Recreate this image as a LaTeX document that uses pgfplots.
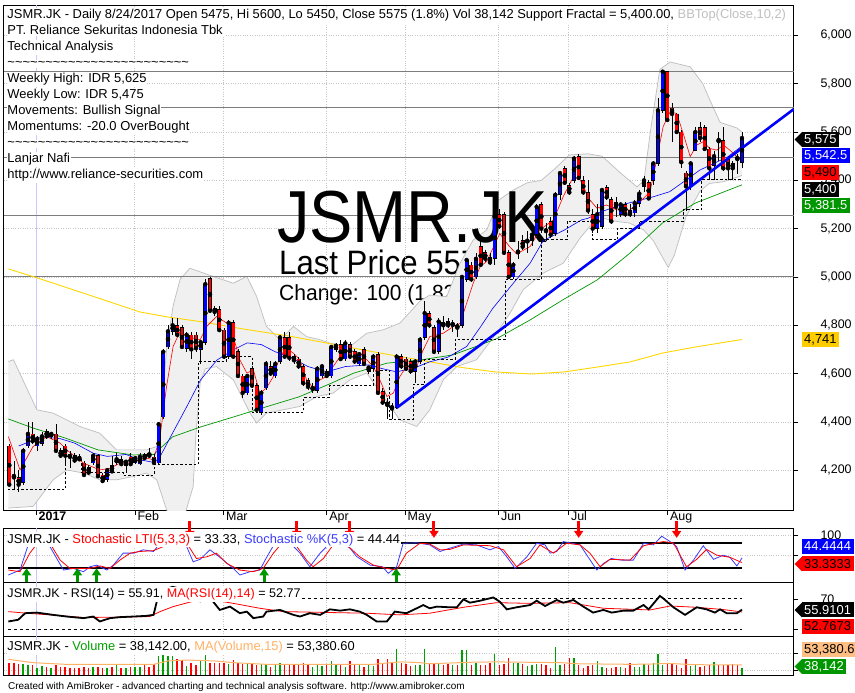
\documentclass[border=0pt]{standalone}
\usepackage{fontspec}
\setmainfont{Liberation Sans}
\usepackage{pgfplots}
\pgfplotsset{compat=1.18}
\usepackage{pgfplotstable}
\usetikzlibrary{arrows.meta}

\definecolor{cblue}{RGB}{0,0,255}
\definecolor{cred}{RGB}{255,0,0}
\definecolor{mgreen}{RGB}{0,150,0}
\definecolor{myellow}{RGB}{255,215,0}
\definecolor{bbfill}{RGB}{240,240,240}
\definecolor{bbedge}{RGB}{190,190,190}
\definecolor{hline}{RGB}{125,125,125}
\definecolor{vgreen}{RGB}{0,160,0}
\definecolor{vorange}{RGB}{255,178,102}
\definecolor{stblue}{RGB}{60,60,255}
\definecolor{gold}{RGB}{255,204,0}
\definecolor{boxgreen}{RGB}{0,150,0}
\definecolor{yearline}{RGB}{200,200,255}
\definecolor{ttgray}{RGB}{192,192,192}
\definecolor{boxorange}{RGB}{255,190,130}

\newcommand\fs[1]{\fontsize{#1}{#1}\selectfont}
\newcommand\tl{\textasciitilde}
\newcommand\tildes{\tl\tl\tl\tl\tl\tl\tl\tl\tl\tl\tl\tl\tl\tl\tl\tl\tl\tl\tl\tl\tl\tl\tl\tl}
\newcommand\hdrs[3]{\node[anchor=base west, fill=white, inner xsep=0.8bp, inner ysep=1.6bp, font=\fs{#1}] at (6.5bp,{(693-#2)*1bp}) {#3};}
\newcommand\hdr[2]{\hdrs{13}{#1}{#2}}
\newcommand\valbox[4]{\node[anchor=west, fill=#2, text=#3, inner xsep=2.5bp, inner ysep=0bp, minimum height=15bp, font=\fs{13}] at (801.5bp,{(693-#1)*1bp}) {#4};}
\newcommand\valarrow[2]{\fill[#2] (794.5bp,{(693-#1)*1bp}) -- (802bp,{(693-#1+7.5)*1bp}) -- (802bp,{(693-#1-7.5)*1bp}) -- cycle;}

\pgfplotstableread{
i o h l c v
0 4300 4310 4130 4140 66
1 4180 4240 4120 4170 66
2 4170 4200 4110 4140 57
3 4150 4290 4140 4280 57
4 4300 4400 4290 4350 53
5 4350 4400 4310 4320 53
6 4300 4340 4280 4330 39
7 4310 4360 4300 4340 48
8 4360 4370 4330 4340 44
9 4340 4360 4330 4350 39
10 4350 4390 4270 4280 53
11 4280 4290 4250 4260 44
12 4300 4310 4220 4260 44
13 4262 4280 4210 4255 39
14 4260 4270 4230 4240 39
15 4255 4265 4240 4245 39
16 4230 4240 4170 4180 44
17 4210 4220 4180 4190 39
18 4230 4270 4220 4260 44
19 4260 4265 4170 4175 44
20 4180 4190 4150 4155 39
21 4160 4210 4150 4200 39
22 4220 4260 4190 4195 44
23 4230 4270 4220 4245 53
24 4245 4260 4220 4225 39
25 4220 4240 4190 4235 39
26 4255 4270 4220 4225 44
27 4230 4260 4225 4250 44
28 4225 4270 4220 4255 44
29 4265 4270 4245 4250 57
30 4270 4290 4250 4260 44
31 4255 4265 4225 4230 57
32 4230 4400 4225 4390 101
33 4420 4700 4410 4690 110
34 4710 4800 4700 4775 101
35 4775 4830 4760 4800 101
36 4800 4830 4750 4760 84
37 4790 4800 4700 4710 78
38 4705 4770 4690 4760 48
39 4760 4770 4660 4700 66
40 4760 4770 4690 4705 52
41 4700 4740 4640 4730 78
42 4730 4990 4720 4970 105
43 4995 5000 4850 4860 66
44 4870 4880 4840 4855 66
45 4865 4880 4770 4780 66
46 4780 4790 4660 4670 66
47 4670 4820 4660 4810 57
48 4810 4820 4660 4670 78
49 4690 4700 4580 4590 66
50 4590 4600 4500 4520 60
51 4520 4600 4510 4590 66
52 4620 4630 4540 4550 57
53 4550 4560 4440 4450 53
54 4440 4530 4430 4520 57
55 4540 4650 4530 4640 53
56 4630 4650 4590 4600 44
57 4590 4650 4580 4640 57
58 4650 4760 4640 4750 66
59 4750 4770 4660 4670 57
60 4750 4770 4650 4665 53
61 4670 4680 4640 4655 57
62 4660 4670 4620 4630 53
63 4630 4640 4550 4560 66
64 4570 4580 4530 4545 53
65 4535 4560 4520 4540 44
66 4530 4630 4520 4620 57
67 4590 4640 4580 4630 48
68 4610 4620 4580 4590 60
69 4590 4720 4580 4710 75
70 4700 4725 4690 4715 57
71 4720 4740 4650 4660 57
72 4660 4740 4650 4725 44
73 4720 4730 4660 4670 75
74 4690 4700 4640 4650 57
75 4640 4690 4630 4680 53
76 4700 4710 4630 4640 44
77 4610 4630 4600 4625 53
78 4620 4680 4610 4670 48
79 4680 4690 4510 4520 84
80 4525 4540 4470 4480 66
81 4480 4500 4410 4470 87
82 4465 4480 4410 4455 66
83 4460 4680 4455 4670 137
84 4670 4680 4620 4630 66
85 4660 4670 4610 4620 57
86 4650 4660 4600 4610 48
87 4610 4660 4560 4650 53
88 4650 4750 4640 4740 53
89 4750 4900 4740 4850 137
90 4850 4860 4790 4800 57
91 4790 4800 4680 4690 57
92 4690 4830 4680 4815 66
93 4810 4840 4780 4800 53
94 4815 4830 4790 4800 57
95 4800 4820 4770 4805 53
96 4800 4810 4750 4790 53
97 4800 5010 4790 5000 132
98 4990 5080 4980 5070 132
99 5050 5060 4980 4990 53
100 5000 5100 4990 5075 66
101 5125 5150 5040 5050 53
102 5100 5110 5060 5075 53
103 5080 5100 5050 5060 66
104 5075 5275 5050 5250 110
105 5260 5280 5200 5210 53
106 5260 5270 5090 5100 57
107 5100 5110 4990 5000 89
108 5000 5060 4990 5050 66
109 5100 5150 5075 5105 66
110 5150 5175 5110 5125 57
111 5145 5190 5100 5150 48
112 5150 5200 5130 5175 53
113 5175 5300 5170 5290 57
114 5300 5310 5180 5200 60
115 5195 5225 5150 5190 53
116 5230 5250 5160 5175 39
117 5180 5350 5170 5340 149
118 5340 5440 5320 5430 53
119 5450 5460 5380 5390 60
120 5380 5390 5340 5350 89
121 5400 5500 5390 5490 89
122 5500 5510 5400 5410 53
123 5400 5420 5340 5350 39
124 5350 5400 5260 5275 48
125 5260 5280 5180 5200 53
126 5200 5300 5180 5260 75
127 5210 5370 5200 5360 44
128 5370 5380 5320 5330 39
129 5320 5330 5220 5230 39
130 5310 5330 5250 5290 44
131 5260 5310 5250 5300 44
132 5300 5310 5250 5260 39
133 5275 5300 5250 5260 66
134 5265 5320 5250 5305 44
135 5305 5360 5290 5345 44
136 5375 5420 5350 5400 57
137 5390 5400 5320 5325 53
138 5400 5480 5380 5470 62
139 5470 5740 5460 5690 110
140 5690 5850 5680 5850 53
141 5850 5850 5640 5650 57
142 5700 5720 5560 5675 57
143 5675 5680 5590 5600 52
144 5600 5610 5450 5475 39
145 5430 5440 5275 5375 84
146 5375 5480 5360 5470 48
147 5525 5620 5520 5600 57
148 5620 5640 5560 5575 44
149 5620 5630 5520 5530 48
150 5530 5540 5400 5450 52
151 5460 5520 5400 5500 69
152 5570 5600 5480 5562 53
153 5565 5620 5440 5450 52
154 5485 5500 5400 5450 53
155 5470 5480 5400 5450 57
156 5495 5510 5425 5488 53
157 5475 5600 5450 5575 38.142
}\candles

\pgfplotsset{
  panel/.style={scale only axis, width=790.3bp, xmin=-1.24, xmax=168.1, anchor=south west,
    axis line style={line width=0.8bp}, tick align=outside, major tick length=4.5bp,
    xtick={5.72,26.9,45.9,68,84.8,104.8,119.8,141},
    xmajorgrids, major grid style={gray!45, dotted, line width=0.7bp},
    ytick pos=right, yticklabel pos=right, xtick pos=left,
    tick style={black, line width=0.6bp},
    ticklabel style={font=\fs{12.5}},
    /pgf/number format/assume math mode=true,
    /pgf/number format/1000 sep={,},
    yticklabel style={anchor=west, inner sep=0pt, xshift=22bp},
  },
  lower/.style={panel, xticklabels={}, xtick style={draw=none}},
}

\begin{document}
\begin{tikzpicture}
\path[use as bounding box, fill=white] (0,0) rectangle (855bp,693bp);

% background texts (drawn under the band)
\node[anchor=base west, inner sep=0pt, font=\fs{34}, xscale=0.92] at (279bp,418.5bp) {Last Price 5575};
\node[anchor=base west, inner sep=0pt, font=\fs{22}, xscale=0.96] at (279bp,392bp) {Change: 100 (1,82\%)};

% ================= MAIN PRICE PANEL =================
\begin{axis}[panel, at={(3.5bp,182.5bp)}, height=505.5bp, ymin=4033, ymax=6126,
  ytick={4200,4400,...,6000}, ymajorgrids,
  xticklabels={\textbf{2017},Feb,Mar,Apr,May,Jun,Jul,Aug},
  xticklabel style={anchor=north west, inner sep=0pt, xshift=2.5bp, yshift=3.5bp}]

\addplot[yearline, line width=0.8bp] coordinates {(5.72,4033) (5.72,6126)};

% Bollinger band (10,2) fill
\addplot[fill=bbfill, draw=none] coordinates {
(-0.2,4650) (0.9,4657) (5.9,4450) (9.4,4436) (12.3,4408) (15.1,4381) (19.4,4353) (23,4284) (29.4,4284) (31.6,4298) (32.5,4420) (33.7,4700) (35.1,4880) (36.6,4990) (38.7,5036) (43.7,5002) (48,4974) (50.9,5002) (53,4919) (55.1,4795) (58,4740) (60.9,4795) (63.7,4753) (66.6,4740) (68.7,4726) (73,4712) (76.6,4767) (80.1,4781) (83.7,4809) (88,4900) (90.1,4925) (93.7,4918) (96.6,5057) (99.4,5153) (102.3,5195) (105,5320) (108,5360) (111,5390) (114,5400) (117,5450) (120,5505) (124,5510) (127,5500) (131,5430) (134.5,5373) (136,5400) (137.5,5620) (139.4,5860) (141.6,5890) (145.9,5870) (148.6,5800) (150.1,5733) (152.3,5640) (155.9,5617) (157,5600)
(157,5420) (153,5394) (150,5387) (148,5355) (145,5250) (142.5,5090) (141.2,5040) (140,5080) (138,5150) (135.9,5195) (132.9,5223) (130.1,5230) (127.3,5243) (124.4,5209) (122.3,5161) (118.7,5057) (114.4,5016) (110.1,4947) (107.3,4850) (104.4,4767) (100.1,4657) (95.9,4629) (93,4574) (90.1,4450) (87.3,4381) (83.7,4408) (80.1,4505) (76.6,4602) (73,4574) (69.4,4519) (65.9,4505) (62.3,4464) (58.7,4450) (55.1,4436) (53,4395) (51.6,4436) (48,4574) (44.4,4629) (42,4620) (40.9,4560) (40,4350) (39.4,4132) (36.6,3950) (33.7,4036) (31.6,4160) (29.4,4188) (26.6,4174) (23,4160) (19.4,4160) (15.9,4188) (12.3,4201) (9.4,4160) (5.1,4050) (-0.2,4043)
} -- cycle;
\addplot[bbedge, line width=0.7bp] coordinates {
(-0.2,4650) (0.9,4657) (5.9,4450) (9.4,4436) (12.3,4408) (15.1,4381) (19.4,4353) (23,4284) (29.4,4284) (31.6,4298) (32.5,4420) (33.7,4700) (35.1,4880) (36.6,4990) (38.7,5036) (43.7,5002) (48,4974) (50.9,5002) (53,4919) (55.1,4795) (58,4740) (60.9,4795) (63.7,4753) (66.6,4740) (68.7,4726) (73,4712) (76.6,4767) (80.1,4781) (83.7,4809) (88,4900) (90.1,4925) (93.7,4918) (96.6,5057) (99.4,5153) (102.3,5195) (105,5320) (108,5360) (111,5390) (114,5400) (117,5450) (120,5505) (124,5510) (127,5500) (131,5430) (134.5,5373) (136,5400) (137.5,5620) (139.4,5860) (141.6,5890) (145.9,5870) (148.6,5800) (150.1,5733) (152.3,5640) (155.9,5617) (157,5600)};
\addplot[bbedge, line width=0.7bp] coordinates {
(-0.2,4043) (5.1,4050) (9.4,4160) (12.3,4201) (15.9,4188) (19.4,4160) (23,4160) (26.6,4174) (29.4,4188) (31.6,4160) (33.7,4036) (36.6,3950) (39.4,4132) (40,4350) (40.9,4560) (42,4620) (44.4,4629) (48,4574) (51.6,4436) (53,4395) (55.1,4436) (58.7,4450) (62.3,4464) (65.9,4505) (69.4,4519) (73,4574) (76.6,4602) (80.1,4505) (83.7,4408) (87.3,4381) (90.1,4450) (93,4574) (95.9,4629) (100.1,4657) (104.4,4767) (107.3,4850) (110.1,4947) (114.4,5016) (118.7,5057) (122.3,5161) (124.4,5209) (127.3,5243) (130.1,5230) (132.9,5223) (135.9,5195) (138,5150) (140,5080) (141.2,5040) (142.5,5090) (145,5250) (148,5355) (150,5387) (153,5394) (157,5420)};

% horizontal levels
\addplot[hline, line width=0.9bp] coordinates {(-1.24,5850) (168.1,5850)};
\addplot[hline, line width=0.9bp] coordinates {(-1.24,5700) (168.1,5700)};
\addplot[hline, line width=0.9bp] coordinates {(-1.24,5495) (168.1,5495)};
\addplot[hline, line width=0.9bp] coordinates {(-1.24,5255) (168.1,5255)};
\addplot[hline, line width=0.9bp] coordinates {(-1.24,5000) (168.1,5000)};

% big ticker text, over the band, under the price data
\node[anchor=base west, inner sep=0pt, font=\fs{74}, xscale=0.88] at (axis cs:57.36,5141) {JSMR.JK};

% moving averages
\addplot[myellow, line width=0.9bp] coordinates {(-0.2,5033) (6,4996) (19,4913) (28,4855) (34,4834) (41,4815) (50,4785) (60,4755) (67,4730) (78,4690) (88,4656) (97,4625) (104,4607) (112,4598) (119,4607) (126,4627) (133,4648) (140,4685) (147,4710) (157,4741)};
\addplot[mgreen, line width=0.7bp] coordinates {(-0.2,4412) (5,4375) (12,4333) (19,4284) (26.5,4263) (31,4265) (32,4284) (35,4338) (41,4379) (48,4420) (55,4462) (62,4503) (69,4560) (73.7,4601) (80.9,4643) (88,4656) (95,4677) (100,4712) (104.5,4745) (111.6,4822) (118.6,4905) (126,4988) (133,5099) (140,5224) (147,5306) (157,5381.5)};
\addplot[cblue, line width=0.6bp] coordinates {(2,4300) (7,4338) (11,4330) (14,4312) (18,4270) (21,4257) (25,4265) (28,4243) (31,4232) (32,4245) (35,4354) (38,4462) (41,4574) (44.5,4656) (48,4698) (51,4727) (54,4720) (57,4690) (60,4670) (64,4629) (68,4607) (72,4629) (77,4636) (80,4620) (83,4607) (87,4625) (90,4648) (94,4668) (98,4712) (101,4794) (103.6,4870) (108,4974) (111.6,5057) (114.4,5150) (119,5195) (122.6,5236) (124,5243) (127,5271) (131,5298) (134,5312) (138,5332) (141.5,5353) (145,5401) (148,5443) (151,5470) (154,5498) (157,5542.5)};
\addplot[cred, line width=0.6bp] coordinates {(-0.2,4339) (2.3,4201) (5.1,4298) (8,4339) (10.9,4312) (12.3,4284) (15.9,4229) (19.4,4201) (21.6,4208) (23.7,4229) (26.6,4236) (29.4,4250) (30.9,4243) (32.3,4339) (33.7,4546) (35.1,4712) (36.6,4774) (38,4753) (40.9,4740) (42.3,4795) (44.4,4836) (46.6,4809) (48,4753) (49.4,4657) (50.9,4602) (52.3,4615) (53.7,4519) (55.1,4540) (56.6,4588) (58,4671) (59.4,4705) (60.9,4684) (62.3,4657) (63.7,4574) (65.1,4540) (66.6,4574) (68,4588) (69.4,4629) (70.9,4671) (72.3,4698) (75.1,4684) (76.6,4657) (78,4629) (79.4,4574) (80.9,4505) (82.3,4519) (83.7,4588) (85.1,4629) (87.3,4629) (88.7,4698) (90.1,4753) (93,4767) (95.1,4794) (96.6,4808) (98,4891) (99.4,4974) (100.9,5043) (102.3,5064) (105.1,5180) (107,5130) (108.7,5095) (111.6,5126) (113.7,5195) (116.6,5236) (118.7,5333) (120.9,5416) (122.3,5402) (124.4,5319) (125.9,5285) (128,5298) (130.1,5278) (133,5278) (135.1,5310) (137.3,5353) (138.7,5484) (140.1,5622) (141.6,5684) (143,5677) (144.4,5594) (145.9,5498) (147.3,5546) (148.7,5560) (150.1,5532) (151.6,5525) (153,5546) (154.4,5525) (155.9,5498) (157,5490)};

% support fractal step line
\addplot[black, const plot, dash pattern=on 2.5bp off 2bp, line width=0.8bp] coordinates {(-0.3,4120) (12,4255) (15.5,4190) (24.5,4180) (31,4225) (40.5,4650) (46.5,4670) (52,4440) (63,4500) (68.5,4550) (78,4615) (81.5,4410) (86.5,4555) (89,4660) (95.5,4740) (106.2,4988) (114,5154) (119.5,5230) (125,5154) (130.3,5202) (135,5230) (144.4,5278) (148.3,5402) (157,5402)};

% candlesticks: wicks
\addplot[only marks, mark=none, error bars/.cd, y dir=both, y explicit, error mark=none,
  error bar style={black, line width=0.6bp}]
  table[x=i, y=c, y error plus expr=\thisrow{h}-\thisrow{c}, y error minus expr=\thisrow{c}-\thisrow{l}] {\candles};
% body outlines
\addplot[only marks, mark=none, error bars/.cd, y dir=both, y explicit, error mark=none,
  error bar style={black, line width=3.9bp}]
  table[x=i, y expr={0.5*(\thisrow{o}+\thisrow{c})}, y error expr={abs(\thisrow{c}-\thisrow{o})/2+1.5}] {\candles};
% up bodies
\addplot[only marks, mark=none, restrict expr to domain={\thisrow{c}-\thisrow{o}}{0.001:100000},
  error bars/.cd, y dir=both, y explicit, error mark=none, error bar style={cblue, line width=2.7bp}]
  table[x=i, y expr={0.5*(\thisrow{o}+\thisrow{c})}, y error expr={max(abs(\thisrow{c}-\thisrow{o})/2-1.5,0.5)}] {\candles};
% down bodies
\addplot[only marks, mark=none, restrict expr to domain={\thisrow{o}-\thisrow{c}}{0.001:100000},
  error bars/.cd, y dir=both, y explicit, error mark=none, error bar style={cred, line width=2.7bp}]
  table[x=i, y expr={0.5*(\thisrow{o}+\thisrow{c})}, y error expr={max(abs(\thisrow{c}-\thisrow{o})/2-1.5,0.5)}] {\candles};

% trend line
\addplot[cblue, line width=2.6bp] coordinates {(83,4458) (168.1,5695)};
\end{axis}

% ================= STOCHASTIC PANEL =================
\begin{axis}[lower, at={(3.5bp,110.7bp)}, height=54bp, ymin=-14.7, ymax=116.2,
  ytick={50,100}, yticklabels={,100}, ymajorgrids, clip=false]
\addplot[yearline, line width=0.8bp] coordinates {(5.72,-14.7) (5.72,116.2)};
\addplot[black, line width=1.6bp] coordinates {(-0.2,80) (157,80)};
\addplot[black, line width=1.6bp] coordinates {(-0.2,20) (157,20)};
\addplot[stblue, line width=0.8bp] coordinates {(-0.2,3) (2.3,15) (4.4,88) (5.9,100) (6.6,76) (8.7,72) (11.6,15) (13.7,19) (15.9,11) (17.3,23) (18.7,27) (20.9,15) (22.3,27) (24.4,56) (26.6,56) (28.7,64) (30.9,60) (33,90) (34.5,100) (36,98) (37,85) (38,72) (39.4,35) (40.9,41) (43,64) (45,47) (48,19) (49.4,3) (51.6,11) (53.7,15) (55,43) (57.3,88) (60.9,72) (62.3,56) (64.4,23) (66.6,56) (68.7,80) (69.4,96) (73,68) (74.4,48) (77.3,27) (80,23) (81.2,7) (83,23) (84.4,80) (87.3,81) (90.1,76) (92.3,60) (94.4,68) (97.3,78) (100.1,76) (103,64) (104.8,72) (106.6,47) (108.4,19) (110.9,47) (113,80) (114.8,76) (115.9,56) (117.3,60) (118.7,84) (120.1,81) (122.3,76) (124,47) (125.9,15) (127.3,31) (129,43) (131.2,39) (133.7,39) (135.9,80) (138,76) (139.8,97) (141.6,84) (143,72) (144.8,15) (146.6,39) (148.7,74) (150.9,41) (153,51) (154.4,46) (155.9,25) (157,44.4)};
\addplot[cred, line width=0.8bp] coordinates {(-0.2,15) (2.3,11) (4.4,56) (6.6,88) (8.7,80) (10.9,39) (13,19) (15.1,19) (17.3,19) (19.4,25) (21.6,19) (23.7,39) (25.9,56) (28,60) (30.9,62) (33,72) (35,92) (37,94) (38.7,68) (40.1,43) (42.3,47) (44.4,56) (46.6,31) (49.4,15) (52.3,11) (54.4,19) (56.6,56) (58.7,84) (61.6,72) (63.7,39) (65.1,23) (67.3,43) (69.4,76) (72.3,76) (75.1,47) (78,27) (80.9,19) (83,15) (85.1,56) (88,80) (90.1,78) (92.3,64) (94.4,65) (97.3,76) (103,74) (105.9,64) (108.7,23) (111.6,43) (113.7,76) (116.6,56) (119.4,80) (122.3,76) (124.4,56) (126.6,23) (128.7,41) (133,39) (135.9,74) (140.1,84) (142.3,81) (145.1,23) (147.3,41) (149.4,65) (151.6,51) (154.4,46) (156.6,35) (157,33.3)};
% signal arrows
\addplot[cred, line width=3bp, -{Triangle[width=9bp,length=7bp]}, quiver={u=0,v=-42}] coordinates {(38.7,135) (61.6,135) (72.9,135) (91,135) (122,135) (143,135)};
\addplot[mgreen, line width=3bp, -{Triangle[width=9bp,length=7bp]}, quiver={u=0,v=34}] coordinates {(3.7,-14.7) (14.6,-14.7) (18.7,-14.7) (54.6,-14.7) (82.9,-14.7)};
\end{axis}

% ================= RSI PANEL =================
\begin{axis}[lower, at={(3.5bp,57bp)}, height=53.7bp, ymin=21.1, ymax=92,
  ytick={30,70}, yticklabels={30,70}]
\addplot[yearline, line width=0.8bp] coordinates {(5.72,21.1) (5.72,92)};
\addplot[black, line width=1bp, dash pattern=on 3bp off 3bp] coordinates {(-0.2,70) (157,70)};
\addplot[black, line width=1bp, dash pattern=on 3bp off 3bp] coordinates {(-0.2,30) (157,30)};
\addplot[cred, line width=0.8bp] coordinates {(-0.2,53.3) (3.7,51.2) (8.7,49) (15.9,45.5) (23,46) (30.1,46.8) (32.3,53.3) (35.1,59.9) (39.4,67) (43.7,68.6) (48,64.2) (53.7,57.7) (58.7,53.3) (69.4,52) (76.6,51.2) (83.7,49) (90.1,51.2) (97.3,59) (104.4,65.1) (111.6,64.2) (120.1,65.1) (127.3,57.7) (137.3,55.5) (141.6,60.7) (147.3,59) (153,56) (157,52.8)};
\addplot[black, line width=1.8bp] coordinates {(-0.2,40.3) (1.9,42.5) (3.4,51.2) (5.9,52) (9.4,49) (12.3,46.8) (15.9,44.7) (18,46.8) (19.4,40.3) (21.6,44.7) (23.7,46) (26.6,46.8) (29.4,47.7) (30.9,49) (31.6,66.4) (32.3,75.2) (33,82) (35,86) (37,83) (39,80) (40.9,67) (42,74) (43,72) (44,64) (45.1,55.5) (47.3,59.9) (49.4,51.2) (50.9,53.3) (52.3,44.7) (54.4,46.8) (55.1,53.3) (58,55.5) (60.9,49) (62.3,46.8) (64.4,51.2) (66.6,49) (68.7,56.3) (70.9,54.6) (73,56.3) (75.1,53.3) (76.6,49) (78.7,40.3) (80.9,40.3) (82.6,53.3) (85.1,51.2) (87.3,57.7) (88.7,62) (90.1,57.7) (91.6,59.9) (94.4,59) (95.9,59) (97.3,69.5) (98.7,65.1) (100.9,67.7) (103.7,72) (105.1,66.4) (106.6,56.3) (108.7,59) (111.6,62) (113,67.7) (114.8,60.7) (117.3,68.6) (118.7,65.1) (120.9,68.6) (123,59.9) (125.1,52) (127.3,55.5) (129.1,52) (131.6,54.6) (133.7,54.6) (135.9,62) (137,56.3) (139.4,74) (140.1,70.9) (142.3,59) (144.8,49) (147.3,59) (149.4,56.3) (151.2,52) (152.3,56.3) (153.7,51.2) (155.9,51.2) (157,55.9)};
\end{axis}

% ================= VOLUME PANEL =================
\begin{axis}[lower, at={(3.5bp,18bp)}, height=39bp, ymin=0, ymax=208.2,
  ytick={23,117}, yticklabels={}, ymajorgrids]
\addplot[yearline, line width=0.8bp] coordinates {(5.72,0) (5.72,208.2)};
\addplot[ycomb, vgreen, line width=1.6bp, restrict expr to domain={\thisrow{c}-\thisrow{o}}{0.001:100000}] table[x=i, y=v] {\candles};
\addplot[ycomb, cred, line width=1.6bp, restrict expr to domain={\thisrow{o}-\thisrow{c}}{0:100000}] table[x=i, y=v] {\candles};
\addplot[vorange, line width=1bp] coordinates {(-0.2,84) (5,66) (12,57) (31,57) (34,75) (38,80) (44,75) (48,66) (55,57) (70,57) (78,57) (80,62) (84,70) (88,66) (90,60) (99,68) (104,70) (118,66) (122,60) (133,57) (137,58) (141,62) (147,55) (157,53.4)};
\end{axis}

% ================= TEXTS ON TOP =================
\hdrs{12.95}{18.5}{JSMR.JK - Daily 8/24/2017 Open 5475, Hi 5600, Lo 5450, Close 5575 (1.8\%) Vol 38,142 Support Fractal = 5,400.00, {\color{ttgray}BBTop(Close,10,2)}}
\hdr{34.5}{PT. Reliance Sekuritas Indonesia Tbk}
\hdr{50.5}{Technical Analysis}
\hdr{66.5}{\tildes}
\hdr{82.5}{Weekly High: IDR 5,625}
\hdr{98.5}{Weekly Low: IDR 5,475}
\hdr{114.5}{Movements: Bullish Signal}
\hdr{130.5}{Momentums: -20.0 OverBought}
\hdr{146.5}{\tildes}
\hdr{162.5}{Lanjar Nafi}
\hdr{178.5}{http://www.reliance-securities.com}

\hdrs{12.9}{543}{JSMR.JK - {\color{cred}Stochastic LTI(5,3,3)} = 33.33, {\color{stblue}Stochastic \%K(5,3)} = 44.44}
\hdrs{12.6}{597.5}{JSMR.JK - RSI(14) = 55.91, {\color{cred}MA(RSI(14),14)} = 52.77}
\hdrs{12.9}{650.5}{JSMR.JK - {\color{vgreen}Volume} = 38,142.00, {\color{vorange}MA(Volume,15)} = 53,380.60}

\node[anchor=base west, inner sep=0pt, font=\fs{10}] at (8bp,{(693-689)*1bp}) {Created with AmiBroker - advanced charting and technical analysis software. http://www.amibroker.com};

% value boxes
\valarrow{139.5}{black}\valbox{139.5}{black}{white}{5,575}
\valbox{155.5}{cblue}{white}{5,542.5}
\valbox{172.5}{cred}{black}{5,490}
\valbox{189.5}{black}{white}{5,400}
\valbox{206}{boxgreen}{white}{5,381.5}
\valbox{339.5}{gold}{black}{4,741}
\valbox{546.5}{cblue}{white}{44.4444}
\valarrow{564}{cred}\valbox{564}{cred}{black}{33.3333}
\valarrow{610}{black}\valbox{610}{black}{white}{55.9101}
\valbox{626.5}{cred}{black}{52.7673}
\valbox{649.5}{boxorange}{black}{53,380.6}
\valarrow{666.5}{boxgreen}\valbox{666.5}{boxgreen}{white}{38,142}
\end{tikzpicture}
\end{document}
